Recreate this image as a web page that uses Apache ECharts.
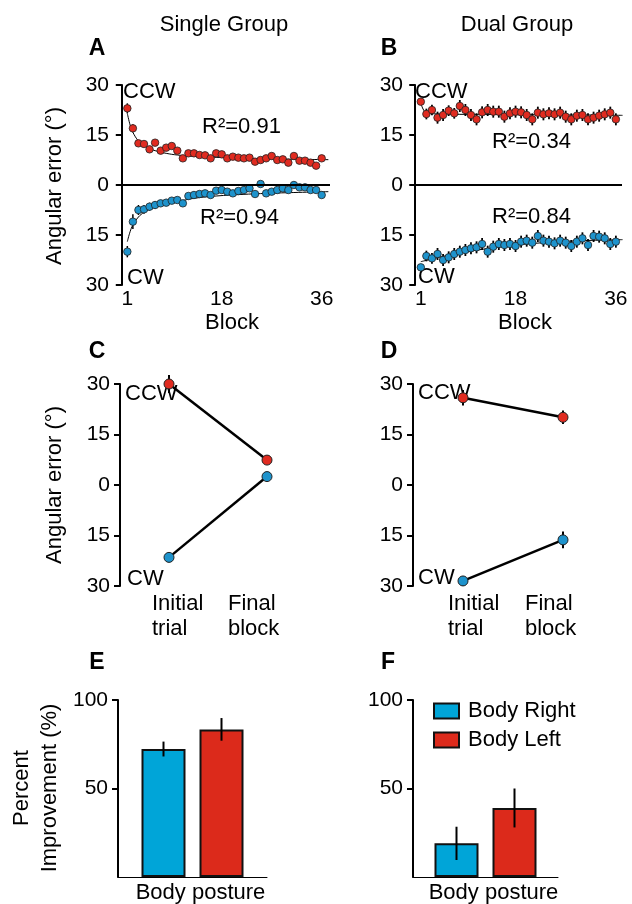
<!DOCTYPE html>
<html>
<head>
<meta charset="utf-8">
<script src="https://cdn.jsdelivr.net/npm/echarts@6/dist/echarts.min.js"></script>
<style>html,body{margin:0;padding:0;background:#fff}#main{width:632px;height:904px}</style>
</head>
<body>
<div id="main"></div>
<script>
// blocks on the x axis of A and B
var blocks = [1,2,3,4,5,6,7,8,9,10,11,12,13,14,15,16,17,18,19,20,21,22,23,24,25,26,27,28,29,30,31,32,33,34,35,36];
var blockTicks = [1, 18, 36];

// panel A (single group), degrees, CW negative
var singleCCW = [23.0,17.0,12.5,12.3,10.7,12.7,10.3,11.2,11.7,10.3,8.0,9.5,9.5,9.0,8.9,8.0,9.5,9.2,8.0,8.5,8.2,8.0,8.2,7.0,7.5,8.0,8.7,7.5,7.7,6.7,8.7,7.3,7.3,6.7,5.8,8.0];
var singleCCWErr = [1.5,1.2,0.9,0.9,1.0,0.9,0.9,0.8,0.8,0.9,0.8,0.7,0.7,0.7,0.7,0.7,0.7,0.7,0.7,0.7,0.7,0.7,0.7,0.7,0.7,0.7,0.7,0.7,0.7,0.7,0.7,0.7,0.7,0.7,0.8,0.8];
var singleCW = [-20.0,-11.0,-7.5,-7.3,-6.5,-6.0,-5.5,-5.3,-4.7,-4.5,-5.5,-3.3,-3.0,-2.7,-2.5,-3.0,-1.7,-1.5,-2.0,-2.5,-1.8,-1.5,-1.0,-2.7,0.3,-2.5,-2.0,-1.5,-1.0,-1.5,0.0,-0.7,-0.7,-1.5,-1.5,-3.0];
var singleCWErr = [1.7,2.2,1.5,1.3,1.2,1.1,1.0,1.0,0.9,0.9,0.9,0.8,0.8,0.8,0.8,0.8,0.8,0.8,0.8,0.8,0.8,0.8,0.8,0.8,0.8,0.8,0.8,0.8,0.8,0.8,0.8,0.8,0.8,0.8,0.8,0.8];
var singleFitX = [1,1.5,2,3,4,5,6,8,10,13,17,22,28,37.2];
var singleCCWFit = [21.5,18,15.8,13.2,11.8,10.9,10.3,9.5,9.0,8.6,8.3,8.0,7.8,7.6];
var singleCWFit = [-17,-14,-12,-9.6,-8.2,-7.3,-6.6,-5.7,-5.0,-4.0,-3.3,-2.8,-2.4,-2.0];

// panel B (dual group)
var dualCCW = [25.0,21.3,22.5,20.2,21.0,22.3,21.5,23.7,22.5,21.0,19.7,21.8,22.5,22.0,22.0,20.5,21.5,22.0,21.8,21.0,19.7,21.7,21.2,21.5,21.2,21.7,20.5,19.7,20.8,21.0,19.7,20.2,20.8,21.2,21.7,19.7];
var dualCCWErr = [1.0,1.6,1.6,1.8,1.8,1.6,1.6,1.8,1.8,1.8,1.8,1.8,1.8,1.8,1.8,1.8,1.8,1.8,1.8,1.8,1.8,1.8,1.8,1.8,1.8,1.8,1.8,1.8,1.8,1.8,1.8,1.8,1.8,1.8,1.8,1.8];
var dualCW = [-24.7,-21.3,-22.0,-20.7,-22.5,-21.7,-20.7,-20.0,-19.5,-19.0,-18.7,-17.7,-20.0,-18.5,-17.7,-18.0,-17.7,-18.3,-17.0,-16.7,-17.3,-15.3,-16.7,-17.0,-17.5,-16.7,-17.3,-18.3,-17.0,-16.0,-18.0,-15.3,-15.5,-16.0,-17.7,-17.0];
var dualCWErr = [0.8,1.6,1.6,1.8,1.8,1.8,1.8,1.8,1.8,1.8,1.8,1.8,1.8,1.8,1.8,1.8,1.8,1.8,1.8,1.8,1.8,1.8,1.8,1.8,1.8,1.8,1.8,1.8,1.8,1.8,1.8,1.8,1.8,1.8,1.8,1.8];
var dualFitX = [1,1.5,2,3,5,8,12,16,20,25,30,37.2];
var dualCCWFit = [24.5,22.5,21.7,21.4,21.3,21.2,21.2,21.1,21.1,21.0,21.0,20.9];
var dualCWFit = [-23,-22.8,-22.6,-22.2,-21.4,-20.4,-19.3,-18.4,-17.7,-17.1,-16.7,-16.4];

var r2 = {singleCCW: '0.91', singleCW: '0.94', dualCCW: '0.34', dualCW: '0.84'};

// panels C and D: initial trial vs final block
var stageX = [1, 2];
var stageLabels = ['Initial\ntrial', 'Final\nblock'];
var singleStageCCW = [30.0, 7.4], singleStageCCWErr = [2.7, 0.8];
var singleStageCW = [-21.5, 2.5], singleStageCWErr = [1.2, 0.8];
var dualStageCCW = [25.9, 20.1], dualStageCCWErr = [2.3, 2.0];
var dualStageCW = [-28.5, -16.3], dualStageCWErr = [1.5, 2.5];

// panels E and F: percent improvement
var postureCats = ['Body posture'];
var groupNames = ['Body Right', 'Body Left'];
var singleImprove = [72.3, 83.4], singleImproveErr = [4.2, 6.4];
var dualImprove = [19.0, 39.0], dualImproveErr = [9.4, 11.0];

var RED = '#e02b20', BLUE = '#1e93cc';
var BAR_RED = '#dc2a1b', BAR_BLUE = '#00a5d8';
var FONT = '"Liberation Sans", Arial, sans-serif';
var BAR_W = 44, BAR_GAP = 14;

var chart = echarts.init(document.getElementById('main'));

function pairs(xs, ys) { return xs.map(function (x, i) { return [x, ys[i]]; }); }
function triples(xs, ys, es) { return xs.map(function (x, i) { return [x, ys[i], es[i]]; }); }

function errSeries(gi, data, w, offset) {
    return {
        type: 'custom', xAxisIndex: gi, yAxisIndex: gi, z: 3, clip: false, silent: true,
        data: data,
        renderItem: function (params, api) {
            var t = api.coord([api.value(0), api.value(1) + api.value(2)]);
            var b = api.coord([api.value(0), api.value(1) - api.value(2)]);
            var dx = offset ? offset[params.dataIndex] || 0 : 0;
            return {type: 'line', shape: {x1: t[0] + dx, y1: t[1], x2: b[0] + dx, y2: b[1]},
                style: {stroke: '#000', lineWidth: w}};
        }
    };
}

function angAxis(gi) {
    return {
        gridIndex: gi, type: 'value', min: -30, max: 30, interval: 15,
        axisLine: {show: true, lineStyle: {color: '#000', width: 2}},
        axisTick: {show: true, length: 6, lineStyle: {color: '#000', width: 2}},
        axisLabel: {color: '#000', fontSize: 21, fontFamily: FONT, margin: 10,
            formatter: function (v) { return String(Math.abs(v)); }},
        splitLine: {show: false}
    };
}
function blockAxis(gi, mn, mx) {
    return {
        gridIndex: gi, type: 'value', min: mn, max: mx,
        axisLine: {show: false}, axisTick: {show: false}, splitLine: {show: false},
        axisLabel: {customValues: blockTicks, color: '#000', fontSize: 21, fontFamily: FONT, margin: 4}
    };
}
function stageAxis(gi) {
    return {gridIndex: gi, type: 'value', min: 0.5, max: 2.5, show: false};
}
function pctAxis(gi) {
    return {
        gridIndex: gi, type: 'value', min: 0, max: 100, interval: 50,
        axisLine: {show: true, lineStyle: {color: '#000', width: 2}},
        axisTick: {show: true, length: 6, customValues: [50, 100], lineStyle: {color: '#000', width: 2}},
        axisLabel: {customValues: [50, 100], color: '#000', fontSize: 21, fontFamily: FONT, margin: 10},
        splitLine: {show: false}
    };
}
function postureAxis(gi) {
    return {
        gridIndex: gi, type: 'category', data: postureCats,
        axisLine: {show: true, lineStyle: {color: '#000', width: 1}},
        axisTick: {show: false},
        axisLabel: {color: '#000', fontSize: 22, fontFamily: FONT, margin: 5, padding: [0, 0, 0, 16]}
    };
}

function blockPanel(gi, ccw, ccwErr, cw, cwErr, fitX, ccwFit, cwFit, errW) {
    return [
        {type: 'line', xAxisIndex: gi, yAxisIndex: gi, data: [], silent: true,
            markLine: {symbol: 'none', silent: true, label: {show: false},
                lineStyle: {color: '#000', width: 2, type: 'solid'}, data: [{yAxis: 0}]}},
        {type: 'line', xAxisIndex: gi, yAxisIndex: gi, data: pairs(fitX, ccwFit), smooth: 0.4,
            showSymbol: false, silent: true, z: 2, lineStyle: {color: '#000', width: 1}},
        {type: 'line', xAxisIndex: gi, yAxisIndex: gi, data: pairs(fitX, cwFit), smooth: 0.4,
            showSymbol: false, silent: true, z: 2, lineStyle: {color: '#000', width: 1}},
        errSeries(gi, triples(blocks, ccw, ccwErr), errW),
        errSeries(gi, triples(blocks, cw, cwErr), errW),
        {type: 'scatter', xAxisIndex: gi, yAxisIndex: gi, data: pairs(blocks, ccw), symbolSize: 7.5, z: 4, clip: false,
            itemStyle: {color: RED, borderColor: '#222', borderWidth: 0.8, opacity: 1}},
        {type: 'scatter', xAxisIndex: gi, yAxisIndex: gi, data: pairs(blocks, cw), symbolSize: 7.5, z: 4, clip: false,
            itemStyle: {color: BLUE, borderColor: '#222', borderWidth: 0.8, opacity: 1}}
    ];
}

function stagePanel(gi, ccw, ccwErr, cw, cwErr) {
    function ln(vals, color) {
        return {type: 'line', xAxisIndex: gi, yAxisIndex: gi, data: pairs(stageX, vals), z: 4, clip: false,
            symbol: 'circle', symbolSize: 10, lineStyle: {color: '#000', width: 2.5},
            itemStyle: {color: color, borderColor: '#222', borderWidth: 1}};
    }
    return [
        errSeries(gi, triples(stageX, ccw, ccwErr), 2),
        errSeries(gi, triples(stageX, cw, cwErr), 2),
        ln(ccw, RED), ln(cw, BLUE)
    ];
}

function barPanel(gi, vals, errs) {
    var half = (BAR_W + BAR_GAP) / 2;
    var eb = errSeries(gi, [[0, vals[0], errs[0]], [0, vals[1], errs[1]]], 2, [-half, half]);
    eb.z = 5;
    return [
        {type: 'bar', name: groupNames[0], xAxisIndex: gi, yAxisIndex: gi, data: [vals[0]],
            barWidth: BAR_W, barGap: (BAR_GAP / BAR_W * 100) + '%',
            itemStyle: {color: BAR_BLUE, borderColor: '#111', borderWidth: 2}},
        {type: 'bar', name: groupNames[1], xAxisIndex: gi, yAxisIndex: gi, data: [vals[1]],
            barWidth: BAR_W,
            itemStyle: {color: BAR_RED, borderColor: '#111', borderWidth: 2}},
        eb
    ];
}

function txt(x, y, s, opt) {
    opt = opt || {};
    var st = {text: s, font: (opt.bold ? 'bold ' : '') + (opt.size || 22) + 'px ' + FONT, fill: '#000',
        textAlign: opt.align || 'left', align: opt.align || 'left',
        textVerticalAlign: opt.va || 'middle', verticalAlign: opt.va || 'middle'};
    if (opt.lh) st.lineHeight = opt.lh;
    return {type: 'text', x: x, y: y, rotation: opt.rot || 0, silent: true, style: st};
}

var graphics = [
    txt(224, 25, 'Single Group', {align: 'center'}),
    txt(517, 25, 'Dual Group', {align: 'center'}),
    txt(97, 49, 'A', {bold: true, size: 23, align: 'center'}),
    txt(389, 49, 'B', {bold: true, size: 23, align: 'center'}),
    txt(97, 352, 'C', {bold: true, size: 23, align: 'center'}),
    txt(389, 352, 'D', {bold: true, size: 23, align: 'center'}),
    txt(97, 663, 'E', {bold: true, size: 23, align: 'center'}),
    txt(388, 663, 'F', {bold: true, size: 23, align: 'center'}),
    txt(55, 186, 'Angular error (°)', {align: 'center', rot: Math.PI / 2}),
    txt(55, 485, 'Angular error (°)', {align: 'center', rot: Math.PI / 2}),
    txt(36, 788, 'Percent\nImprovement (%)', {align: 'center', rot: Math.PI / 2, lh: 28}),
    txt(232, 323, 'Block', {align: 'center'}),
    txt(525, 323, 'Block', {align: 'center'}),
    txt(123, 92, 'CCW'), txt(127, 278, 'CW'),
    txt(415, 92, 'CCW'), txt(418, 277, 'CW'),
    txt(125, 394, 'CCW'), txt(127, 579, 'CW'),
    txt(418, 393, 'CCW'), txt(418, 578, 'CW'),
    txt(202, 127, 'R²=' + r2.singleCCW), txt(200, 218, 'R²=' + r2.singleCW),
    txt(492, 142, 'R²=' + r2.dualCCW), txt(492, 217, 'R²=' + r2.dualCW),
    txt(152, 591, stageLabels[0], {va: 'top', lh: 25}),
    txt(228, 591, stageLabels[1], {va: 'top', lh: 25}),
    txt(448, 591, stageLabels[0], {va: 'top', lh: 25}),
    txt(525, 591, stageLabels[1], {va: 'top', lh: 25})
];

var option = {
    animation: false,
    backgroundColor: '#fff',
    textStyle: {fontFamily: FONT},
    grid: [
        {left: 119, top: 85, width: 211, height: 200},
        {left: 413, top: 85, width: 209, height: 200},
        {left: 120, top: 384, width: 196, height: 202},
        {left: 413, top: 384, width: 200, height: 202},
        {left: 118, top: 700, width: 149, height: 177},
        {left: 413, top: 700, width: 145, height: 177}
    ],
    xAxis: [blockAxis(0, -0.5, 37.5), blockAxis(1, -0.4, 37.1), stageAxis(2), stageAxis(3), postureAxis(4), postureAxis(5)],
    yAxis: [angAxis(0), angAxis(1), angAxis(2), angAxis(3), pctAxis(4), pctAxis(5)],
    legend: {
        left: 433, top: 700, padding: 0, orient: 'vertical', icon: 'rect', itemWidth: 25, itemHeight: 15, itemGap: 7,
        data: groupNames, selectedMode: false,
        textStyle: {color: '#000', fontSize: 22, fontFamily: FONT, padding: [0, 0, 0, 4]}
    },
    graphic: graphics,
    series: [].concat(
        blockPanel(0, singleCCW, singleCCWErr, singleCW, singleCWErr, singleFitX, singleCCWFit, singleCWFit, 1.5),
        blockPanel(1, dualCCW, dualCCWErr, dualCW, dualCWErr, dualFitX, dualCCWFit, dualCWFit, 1.8),
        stagePanel(2, singleStageCCW, singleStageCCWErr, singleStageCW, singleStageCWErr),
        stagePanel(3, dualStageCCW, dualStageCCWErr, dualStageCW, dualStageCWErr),
        barPanel(4, singleImprove, singleImproveErr),
        barPanel(5, dualImprove, dualImproveErr)
    )
};
chart.setOption(option);
</script>
</body>
</html>
